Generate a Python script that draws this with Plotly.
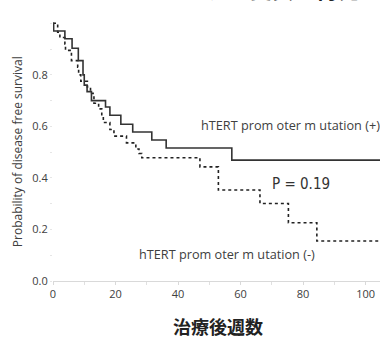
import plotly.graph_objects as go

# Kaplan-Meier step data (weeks, survival probability)
pos_weeks = [0, 0.2, 3.8, 6.1, 8.1, 9.6, 10.0, 10.9, 12.3, 16.8, 18.2, 21.7, 25.5, 31.6, 36.2, 57.2, 105]
pos_surv = [1.0, 0.97, 0.94, 0.903, 0.855, 0.80, 0.76, 0.735, 0.70, 0.675, 0.643, 0.608, 0.578, 0.547, 0.516, 0.469, 0.469]

neg_weeks = [0, 1.5, 2.2, 3.8, 4.0, 5.9, 7.9, 8.2, 8.9, 11.0, 12.0, 13.1, 14.6, 15.6, 16.1, 18.2, 19.5,
             23.5, 26.5, 27.5, 28.4, 47.0, 52.9, 66.2, 75.3, 84.4, 105]
neg_surv = [1.0, 0.965, 0.945, 0.92, 0.895, 0.855, 0.83, 0.80, 0.775, 0.753, 0.728, 0.69, 0.668, 0.64, 0.615,
            0.588, 0.562, 0.536, 0.512, 0.495, 0.478, 0.443, 0.353, 0.301, 0.226, 0.155, 0.155]

x_ticks = [0, 20, 40, 60, 80, 100]
y_ticks = [0.0, 0.2, 0.4, 0.6, 0.8]
y_tick_labels = ["0.0", "0.2", "0.4", "0.6", "0.8"]

title_text = "プロモーター変異と再発"
x_title = "治療後週数"
y_title = "Probability of disease free survival"
label_pos = "hTERT prom oter m utation (+)"
label_neg = "hTERT prom oter m utation (-)"
p_text = "P = 0.19"

fig = go.Figure()
fig.add_trace(go.Scatter(x=neg_weeks, y=neg_surv, mode="lines", line_shape="hv",
                         line=dict(color="#222222", width=1.6, dash="dot"), showlegend=False))
fig.add_trace(go.Scatter(x=pos_weeks, y=pos_surv, mode="lines", line_shape="hv",
                         line=dict(color="#333333", width=1.6), showlegend=False))

tick_font = dict(family="Open Sans, Noto Sans, sans-serif", size=11, color="#404040")
label_font = dict(family="Open Sans, Noto Sans, sans-serif", size=12.7, color="#404040")

fig.update_layout(
    width=380, height=339,
    margin=dict(l=53, r=0, t=22, b=58),
    plot_bgcolor="white", paper_bgcolor="white",
    xaxis=dict(range=[0, 104.6], tickvals=x_ticks, showgrid=False, zeroline=False,
               showline=True, linecolor="#d9d9d9", linewidth=1,
               ticks="outside", ticklen=3, tickcolor="#d9d9d9",
               minor=dict(dtick=10, ticks="outside", ticklen=3, tickcolor="#e0e0e0"),
               tickfont=tick_font),
    yaxis=dict(range=[0, 1.005], tickvals=y_ticks, ticktext=y_tick_labels, showgrid=False,
               zeroline=False, showline=False, ticks="outside", ticklen=2, tickcolor="#e6e6e6",
               minor=dict(dtick=0.1, ticks="outside", ticklen=2, tickcolor="#e6e6e6"),
               tickfont=tick_font),
    annotations=[
        dict(text=y_title, xref="paper", yref="paper", x=-0.108, y=0.5, textangle=-90,
             showarrow=False, xanchor="center", yanchor="middle",
             font=dict(family="Open Sans, Noto Sans, sans-serif", size=12, color="#404040")),
        dict(text="<b>" + x_title + "</b>", xref="paper", yref="paper", x=0.505, y=-0.175,
             showarrow=False, xanchor="center", yanchor="middle",
             font=dict(family="Noto Sans CJK JP", size=18, color="#222222")),
        dict(text="<b>" + title_text + "</b>", xref="paper", yref="paper", x=0.57, y=1.13,
             showarrow=False, xanchor="center", yanchor="middle",
             font=dict(family="Noto Sans CJK JP", size=22, color="#222222")),
        dict(text=label_pos, xref="x", yref="y", x=46.6, y=0.605, showarrow=False,
             xanchor="left", yanchor="middle", font=label_font),
        dict(text=label_neg, xref="x", yref="y", x=26.9, y=0.105, showarrow=False,
             xanchor="left", yanchor="middle", font=label_font),
        dict(text=p_text, xref="x", yref="y", x=69.5, y=0.375, showarrow=False,
             xanchor="left", yanchor="middle",
             font=dict(family="Liberation Sans Narrow, DejaVu Sans Condensed, sans-serif", size=15, color="#333333")),
    ],
)

fig.write_html("out.html", config={"displayModeBar": False},
               post_script="document.body.style.margin='0';")
